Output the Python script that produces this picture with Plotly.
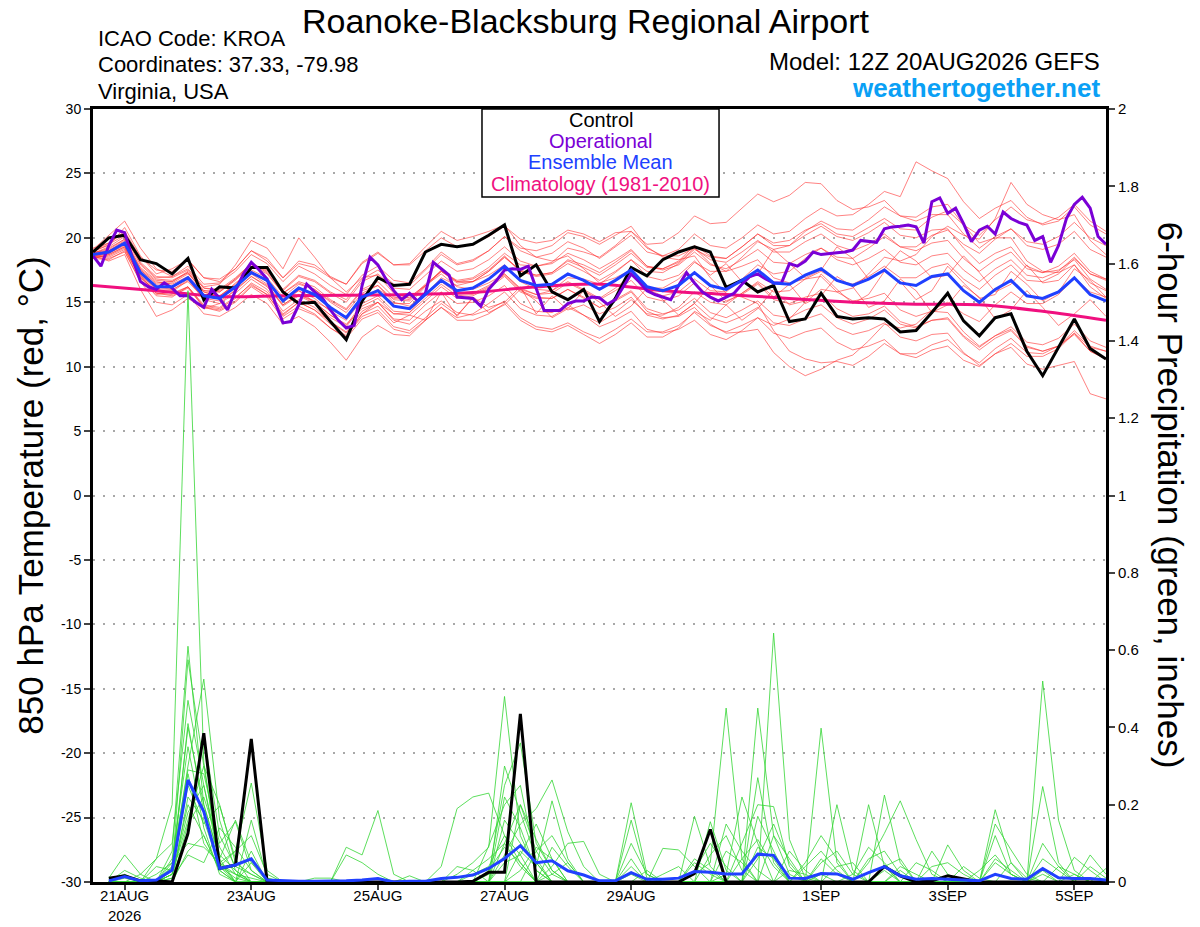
import pandas as pd
import plotly.graph_objects as go

RUN = "2026-08-20 12:00"
END = "2026-09-05 12:00"

# 850 hPa temperature (deg C), 6-hourly from 12Z 20AUG
control_t = [18.9, 20.0, 20.2, 18.3, 18.0, 17.2, 18.4, 15.2, 16.2, 16.1,
             17.7, 17.7, 15.8, 14.9, 15.0, 13.5, 12.1, 15.1, 16.9, 16.3,
             16.4, 18.9, 19.5, 19.3, 19.5, 20.2, 21.0, 17.05, 17.9, 15.8,
             15.2, 16.0, 13.5, 15.3, 17.7, 17.05, 18.3, 18.9, 19.3, 18.9,
             16.15, 16.7, 15.8, 16.3, 13.5, 13.7, 15.7, 13.9, 13.7, 13.8,
             13.7, 12.7, 12.8, 14.2, 15.7, 13.55, 12.4, 13.8, 14.1, 11.2,
             9.3, 11.5, 13.7, 11.4, 10.6]

mean_t = [18.7, 18.9, 19.6, 17.3, 16.2, 16.2, 16.9, 15.5, 15.3, 16.2,
          17.3, 16.7, 15.1, 16.1, 15.6, 14.6, 13.8, 15.4, 15.9, 14.7,
          14.5, 15.6, 16.7, 15.9, 16.1, 16.8, 17.8, 16.7, 16.3, 16.4,
          17.2, 16.7, 16.0, 16.7, 17.5, 16.2, 15.9, 16.3, 17.3, 16.3,
          16.0, 16.7, 17.5, 16.5, 16.4, 17.1, 17.6, 16.7, 16.3, 16.8,
          17.5, 16.5, 16.3, 17.0, 17.2, 15.9, 15.0, 16.0, 16.7, 15.5,
          15.3, 15.8, 16.9, 15.6, 15.1]

# operational run, 3-hourly
oper_t = [18.6, 17.8, 19.4, 20.6, 20.4, 18.4, 16.6, 16.2, 16.0, 16.5,
          16.1, 15.5, 15.5, 15.0, 14.6, 16.0, 15.3, 14.4, 15.9, 17.2,
          18.1, 17.5, 16.8, 15.0, 13.4, 13.5, 14.8, 16.4, 15.8, 15.3,
          14.4, 13.6, 13.0, 13.2, 16.3, 18.5, 17.9, 16.8, 15.9, 15.2,
          15.7, 15.1, 15.7, 18.1, 17.6, 17.1, 15.4, 15.35, 15.3, 14.7,
          16.0, 16.7, 17.5, 17.6, 17.55, 17.8, 16.0, 14.35, 14.35, 14.35,
          14.9, 15.1, 15.1, 15.4, 15.35, 14.85, 15.2, 16.2, 17.2, 16.6,
          15.9, 15.6, 15.4, 15.2, 16.3, 17.3, 16.5, 15.8, 15.4, 15.1,
          15.4, 15.7, 16.4, 17.0, 17.2, 16.8, 16.5, 16.5, 18.0, 17.8,
          18.2, 18.9, 18.7, 18.8, 18.85, 18.9, 19.05, 19.8, 19.7, 19.65,
          20.7, 20.85, 20.9, 21.0, 20.85, 19.6, 22.8, 23.1, 21.9, 22.3,
          21.1, 19.7, 20.6, 20.9, 20.3, 22.0, 21.5, 21.2, 21.0, 19.8,
          20.1, 18.1, 19.4, 21.5, 22.6, 23.15, 22.3, 20.1, 19.5]

# climatology, daily at 12Z
clim_t = [16.3, 15.9, 15.45, 15.5, 15.55, 15.6, 15.75, 16.2, 16.4,
          15.9, 15.6, 15.3, 15.0, 14.85, 14.8, 14.3, 13.6]

member_t = [
    [19.0, 19.6, 20.4, 18.0, 16.9, 17.0, 17.8, 16.4, 16.5, 17.4, 18.7, 18.0, 16.6, 17.8, 17.2, 16.3, 15.6, 17.1, 17.8, 16.7, 16.5, 17.6, 18.9, 18.0, 18.3, 19.0, 20.1, 19.0, 18.5, 18.8, 19.7, 19.2, 18.4, 19.3, 20.2, 18.9, 18.6, 19.1, 20.3, 19.4, 19.2, 20.0, 21.0, 20.3, 20.5, 21.5, 22.3, 21.7, 21.8, 22.6, 23.6, 23.2, 25.9, 25.2, 24.6, 22.8, 21.5, 22.3, 22.9, 21.6, 21.0, 21.3, 22.4, 21.0, 20.3],
    [18.5, 18.6, 19.2, 16.8, 15.5, 15.4, 16.2, 14.6, 14.4, 15.1, 16.3, 15.6, 14.0, 15.0, 14.4, 13.5, 12.6, 14.1, 14.7, 13.4, 14.0, 13.6, 15.8, 13.9, 15.4, 14.6, 15.0, 16.2, 14.1, 15.5, 14.4, 14.8, 14.1, 14.6, 15.4, 14.0, 13.7, 14.0, 14.9, 13.8, 13.4, 13.9, 14.6, 13.4, 13.2, 13.7, 14.1, 13.0, 12.5, 12.8, 13.4, 12.3, 12.0, 12.5, 12.6, 11.1, 10.1, 11.0, 11.5, 10.2, 9.8, 10.1, 10.4, 7.9, 7.5],
    [18.4, 18.3, 19.0, 16.6, 15.0, 14.8, 15.6, 14.1, 13.9, 14.6, 15.6, 14.9, 13.3, 13.9, 13.1, 11.9, 10.5, 12.3, 13.2, 12.5, 12.4, 13.6, 14.6, 13.8, 14.1, 14.9, 15.8, 14.5, 14.0, 13.9, 14.6, 14.0, 13.4, 14.2, 15.2, 14.1, 14.0, 14.6, 15.8, 15.0, 14.8, 15.7, 16.6, 15.8, 15.9, 16.8, 17.4, 16.7, 16.4, 17.0, 17.8, 16.9, 16.9, 17.7, 18.0, 16.8, 16.0, 17.1, 17.9, 16.7, 16.6, 17.2, 18.4, 17.2, 16.8],
    [19.0, 19.4, 20.8, 18.6, 17.2, 17.6, 18.3, 16.9, 16.8, 17.6, 19.0, 18.4, 16.9, 18.2, 17.9, 17.0, 16.4, 18.0, 18.8, 17.9, 17.9, 19.0, 20.0, 19.3, 19.5, 20.1, 20.9, 19.9, 19.6, 19.8, 20.6, 20.3, 19.7, 20.4, 20.5, 19.2, 18.6, 18.6, 19.2, 18.0, 17.4, 17.8, 18.3, 16.9, 16.5, 16.8, 17.0, 15.8, 15.1, 15.3, 15.7, 14.4, 13.9, 14.3, 14.2, 12.7, 11.6, 12.4, 12.9, 11.6, 11.2, 11.6, 12.5, 11.2, 10.6],
    [18.6, 18.2, 18.7, 16.0, 13.9, 14.4, 15.3, 14.5, 14.9, 16.0, 17.0, 16.2, 14.8, 15.6, 15.1, 14.4, 13.9, 15.3, 16.0, 15.3, 15.4, 16.3, 17.2, 16.2, 16.0, 16.5, 17.2, 16.0, 15.6, 15.9, 16.9, 16.8, 16.4, 17.3, 18.3, 17.4, 17.3, 18.0, 19.1, 18.5, 18.4, 19.3, 20.3, 19.6, 19.8, 20.6, 21.1, 20.3, 20.1, 20.8, 21.5, 20.7, 20.6, 21.6, 22.1, 21.0, 20.2, 21.4, 22.4, 21.4, 21.1, 21.6, 22.6, 21.3, 20.5],
    [18.8, 19.1, 19.9, 17.6, 16.6, 16.4, 17.0, 15.8, 15.4, 16.5, 17.4, 16.6, 15.3, 15.9, 15.0, 14.0, 13.3, 14.5, 15.0, 13.6, 13.3, 14.3, 15.1, 14.2, 14.0, 14.4, 15.1, 13.8, 13.1, 12.9, 13.4, 12.7, 12.2, 12.9, 13.7, 12.7, 12.7, 13.2, 14.2, 13.2, 12.7, 13.2, 13.8, 12.6, 12.2, 12.7, 13.0, 11.9, 11.3, 11.6, 12.1, 11.0, 10.7, 11.3, 11.6, 10.5, 10.0, 11.0, 11.8, 10.8, 10.8, 11.4, 12.6, 11.5, 11.2],
    [19.1, 20.2, 21.3, 19.2, 17.6, 17.0, 17.6, 16.2, 16.4, 17.9, 19.8, 19.2, 17.6, 20.0, 18.5, 16.9, 15.8, 16.9, 17.1, 15.7, 15.3, 16.4, 17.4, 16.5, 16.6, 17.4, 18.5, 17.4, 17.1, 17.3, 18.3, 17.9, 17.3, 18.1, 19.0, 17.8, 17.6, 18.1, 19.2, 18.3, 18.1, 18.9, 19.8, 18.9, 18.9, 19.7, 20.3, 19.4, 19.0, 19.5, 20.3, 19.3, 19.0, 19.6, 19.8, 18.4, 17.4, 18.3, 18.9, 17.6, 17.3, 17.8, 18.8, 17.4, 16.8],
    [18.5, 18.8, 19.4, 17.0, 15.8, 15.9, 16.8, 15.2, 14.9, 15.7, 16.8, 16.0, 14.3, 15.2, 14.6, 13.5, 12.7, 14.3, 15.0, 13.7, 13.6, 14.8, 15.8, 14.9, 15.0, 15.5, 16.3, 14.9, 14.3, 14.2, 14.8, 14.0, 13.1, 13.6, 14.3, 12.9, 12.6, 12.9, 13.6, 12.5, 12.1, 12.8, 13.8, 13.2, 13.7, 15.0, 16.0, 15.8, 16.1, 17.2, 18.5, 18.2, 18.7, 20.1, 20.9, 20.2, 19.9, 21.5, 24.3, 22.6, 21.8, 21.4, 21.8, 19.8, 18.7],
    [18.8, 19.2, 19.9, 17.7, 16.7, 16.6, 17.3, 15.9, 15.8, 16.7, 17.9, 17.2, 15.7, 16.6, 16.2, 15.2, 14.5, 16.0, 16.6, 15.4, 15.2, 16.3, 17.5, 16.6, 16.8, 17.5, 18.6, 17.4, 17.0, 17.2, 18.0, 17.4, 16.7, 17.4, 18.3, 17.0, 16.7, 17.1, 18.2, 17.1, 18.0, 16.6, 17.2, 19.1, 18.0, 16.9, 17.5, 19.3, 18.4, 16.8, 17.6, 19.0, 18.2, 16.9, 17.1, 18.6, 17.3, 15.8, 16.4, 17.9, 16.5, 16.7, 17.9, 16.5, 15.9],
    [18.9, 19.5, 20.2, 18.1, 17.0, 16.9, 17.5, 16.1, 15.9, 16.8, 18.0, 17.5, 16.0, 17.1, 16.7, 15.8, 15.2, 16.8, 17.5, 16.4, 16.3, 17.5, 18.7, 17.9, 18.2, 19.0, 20.1, 19.2, 19.0, 19.4, 20.4, 20.1, 19.5, 20.2, 20.9, 19.3, 18.5, 18.3, 18.6, 16.9, 15.7, 15.4, 14.9, 12.8, 11.2, 10.6, 10.3, 10.4, 10.1, 10.8, 11.8, 11.0, 11.0, 11.7, 12.1, 11.0, 10.3, 11.4, 12.2, 11.1, 11.0, 11.6, 12.8, 11.6, 11.2],
    [18.6, 18.5, 19.1, 16.9, 15.9, 16.0, 16.6, 15.3, 15.1, 15.9, 17.0, 16.3, 14.7, 15.5, 14.9, 13.8, 13.1, 14.7, 15.3, 14.1, 14.0, 15.1, 16.2, 15.3, 15.5, 16.1, 17.0, 15.8, 15.3, 15.3, 16.0, 15.3, 14.6, 15.1, 15.8, 14.3, 13.8, 13.9, 14.6, 13.3, 12.6, 12.7, 12.9, 11.1, 10.0, 9.3, 9.8, 10.5, 10.9, 12.0, 13.3, 13.0, 13.3, 14.4, 15.0, 14.1, 13.5, 14.8, 15.8, 14.9, 14.9, 15.6, 16.9, 15.8, 15.4],
    [18.7, 19.0, 19.7, 17.5, 16.5, 16.6, 17.4, 16.1, 16.0, 16.9, 18.0, 17.3, 15.7, 16.5, 16.0, 15.0, 14.2, 15.7, 16.3, 15.2, 15.1, 16.3, 17.4, 16.7, 16.9, 17.7, 18.8, 17.9, 17.8, 18.1, 19.2, 18.9, 18.5, 19.4, 20.5, 19.5, 19.6, 20.4, 21.7, 21.1, 21.2, 22.3, 23.4, 22.8, 23.3, 24.3, 24.2, 22.9, 22.2, 22.4, 22.9, 21.7, 21.3, 21.8, 21.8, 20.3, 19.2, 20.1, 20.7, 19.4, 19.1, 19.5, 20.5, 19.1, 18.5],
    [18.4, 18.7, 19.3, 17.2, 16.0, 15.7, 16.2, 14.7, 14.5, 15.3, 16.5, 15.8, 14.1, 15.0, 14.4, 13.3, 12.4, 13.9, 14.4, 13.1, 12.8, 13.8, 14.9, 14.0, 15.3, 14.2, 14.8, 16.0, 15.1, 13.8, 14.5, 15.9, 15.0, 13.9, 14.7, 16.1, 15.2, 14.0, 14.9, 16.3, 15.1, 15.6, 16.4, 15.2, 14.9, 15.4, 15.7, 14.5, 13.9, 14.1, 14.7, 13.5, 13.1, 13.6, 13.7, 12.3, 11.3, 12.2, 12.8, 11.5, 11.2, 11.6, 12.6, 11.2, 10.6],
    [19.2, 19.6, 20.5, 18.5, 17.5, 17.4, 18.3, 16.9, 16.6, 17.6, 19.0, 18.2, 16.9, 18.0, 17.7, 16.9, 16.4, 18.1, 18.9, 17.9, 18.0, 19.3, 20.5, 19.8, 20.1, 20.5, 21.0, 19.4, 18.5, 18.2, 18.6, 17.6, 16.5, 16.9, 17.5, 16.0, 15.5, 15.8, 16.8, 15.9, 15.8, 16.8, 17.9, 17.2, 17.4, 18.4, 19.2, 18.5, 18.4, 19.2, 20.1, 19.3, 19.3, 20.2, 20.6, 19.5, 18.8, 19.9, 20.7, 19.7, 19.5, 20.1, 21.2, 20.0, 19.4],
    [18.9, 18.9, 19.5, 17.1, 15.7, 15.5, 16.1, 14.6, 14.3, 15.0, 16.2, 15.4, 13.7, 14.5, 14.0, 13.0, 12.3, 14.1, 15.0, 14.1, 14.2, 15.6, 16.9, 16.3, 16.6, 17.4, 18.5, 17.5, 17.1, 17.3, 18.2, 17.7, 17.1, 17.9, 18.8, 17.7, 17.6, 18.2, 19.4, 18.6, 18.4, 19.3, 20.3, 19.4, 19.4, 20.2, 20.9, 20.1, 19.8, 20.4, 21.2, 20.2, 20.0, 20.6, 20.7, 19.2, 18.0, 18.8, 19.3, 17.8, 17.3, 17.5, 18.3, 16.8, 16.0],
    [18.6, 18.8, 19.5, 17.1, 16.0, 16.1, 16.9, 15.6, 15.5, 16.4, 17.5, 16.9, 15.4, 16.4, 16.0, 15.1, 14.4, 15.9, 16.3, 15.0, 14.7, 15.7, 16.6, 15.7, 15.7, 16.3, 17.1, 15.9, 15.4, 15.3, 16.0, 15.4, 14.6, 15.2, 15.9, 14.5, 14.1, 14.4, 15.3, 14.2, 13.8, 14.4, 15.1, 14.0, 13.8, 14.4, 14.8, 13.8, 13.3, 13.7, 14.4, 13.3, 13.0, 13.6, 13.8, 12.4, 11.5, 12.4, 13.1, 11.9, 11.7, 12.2, 13.3, 12.0, 11.5],
    [18.8, 19.3, 20.1, 17.9, 16.8, 16.7, 17.3, 15.8, 15.5, 16.3, 17.4, 16.6, 15.0, 15.9, 15.3, 14.3, 13.6, 15.2, 15.9, 14.9, 14.9, 16.2, 17.4, 16.6, 16.6, 17.1, 17.9, 16.6, 16.0, 15.9, 16.6, 16.0, 15.3, 16.1, 17.1, 16.1, 16.1, 16.8, 18.1, 17.4, 17.4, 18.5, 19.7, 19.1, 19.4, 20.5, 21.3, 20.7, 20.6, 21.4, 22.4, 21.7, 21.6, 22.4, 22.6, 21.0, 19.6, 20.0, 20.0, 18.2, 17.4, 17.3, 17.9, 16.2, 15.3],
    [18.5, 18.4, 18.9, 16.6, 15.6, 15.8, 16.7, 15.4, 15.3, 16.2, 17.2, 16.4, 14.8, 15.6, 15.0, 14.0, 13.2, 14.9, 15.5, 14.3, 14.2, 15.3, 16.4, 15.5, 15.6, 16.2, 17.2, 16.1, 15.6, 15.7, 16.5, 15.9, 15.2, 15.9, 16.7, 15.4, 15.1, 15.5, 16.5, 15.4, 15.0, 15.7, 16.5, 15.4, 16.4, 14.9, 15.5, 17.0, 16.2, 14.6, 15.1, 16.8, 15.9, 14.2, 14.8, 16.3, 15.4, 13.7, 14.4, 15.9, 14.6, 13.2, 14.1, 15.2, 13.9],
    [18.7, 19.0, 19.8, 17.5, 16.4, 16.5, 17.2, 15.9, 15.8, 16.8, 18.0, 17.4, 15.9, 17.0, 16.6, 15.7, 15.0, 16.6, 17.2, 16.1, 16.0, 17.1, 18.2, 17.4, 17.6, 18.3, 19.3, 18.2, 17.8, 18.0, 18.8, 18.3, 17.6, 18.3, 19.1, 17.8, 17.5, 17.9, 18.9, 17.9, 17.6, 18.3, 19.1, 18.1, 18.0, 18.7, 19.2, 18.3, 17.9, 18.4, 19.1, 18.1, 17.9, 18.6, 18.8, 17.5, 16.6, 17.6, 18.3, 17.1, 16.9, 17.4, 18.5, 17.2, 16.7],
    [18.6, 18.7, 19.3, 16.9, 15.7, 15.6, 16.2, 14.8, 14.6, 15.4, 16.4, 15.6, 13.9, 14.7, 14.1, 13.0, 12.2, 13.7, 14.2, 12.9, 12.6, 13.6, 14.6, 13.6, 13.6, 14.1, 14.9, 13.6, 12.9, 12.7, 13.2, 12.5, 11.8, 12.5, 13.4, 12.3, 12.3, 13.0, 14.3, 13.6, 14.8, 13.6, 14.5, 16.0, 14.8, 15.1, 17.2, 16.0, 14.9, 15.6, 17.4, 16.6, 15.2, 15.9, 17.8, 16.5, 15.3, 15.6, 17.4, 16.4, 15.1, 15.8, 17.6, 16.7, 15.4],
]

# 6-hour precipitation (inches), ending 18Z 20AUG .. 12Z 5SEP
control_p = [.01, .016, .003, .003, 0, .126, .385, .035,
             .044, .37, 0, 0, 0, 0, 0, 0,
             0, 0, 0, 0, 0, 0, 0, .002,
             .025, .025, .435, 0, 0, 0, 0, 0,
             0, 0, 0, 0, 0, .022, .136, 0,
             0, 0, 0, 0, 0, 0, 0, 0,
             0, .04, .016, 0, .003, .016, .007, 0,
             0, 0, 0, 0, 0, 0, 0, 0]

mean_p = [.003, .014, .003, .005, .031, .264, .182, .035,
          .044, .06, .005, .003, .002, .002, .002, .003,
          .005, .009, 0, .002, .002, .009, .012, .018,
          .035, .061, .094, .05, .055, .029, .018, .003,
          .003, .024, .007, .007, .01, .027, .025, .021,
          .021, .072, .069, .01, .009, .022, .021, .007,
          .024, .04, .016, .007, .009, .007, .005, .003,
          .02, .009, .007, .035, .011, .009, .009, .005]

member_p = [
    [.01, .07, .02, .06, .2, 1.53, .31, .04, .02, .01, 0, 0, 0, 0, 0, 0,
     0, 0, 0, 0, 0, 0, .02, .05, .09, .48, .12, .03, 0, 0, 0, 0,
     0, 0, 0, 0, 0, .02, .05, .45, .06, 0, 0, 0, 0, .02, 0, 0,
     0, 0, 0, 0, 0, 0, 0, 0, .05, .02, 0, .02, 0, 0, 0, 0],
    [0, .03, .01, 0, .08, .61, .2, .06, .16, .05, .01, 0, 0, 0, 0, 0,
     0, 0, 0, 0, 0, .04, .19, .22, .23, .12, .05, 0, 0, 0, 0, 0,
     0, .02, 0, 0, 0, 0, 0, 0, 0, .27, .05, 0, 0, 0, 0, 0,
     .2, .04, 0, 0, 0, 0, 0, 0, 0, 0, 0, .52, .16, .03, 0, 0],
    [0, 0, 0, .04, .03, .575, .3, .2, .05, .02, 0, 0, 0, 0, 0, .09,
     .07, .185, .02, 0, 0, 0, 0, 0, .02, .25, .36, .1, .03, 0, 0, 0,
     0, 0, 0, 0, 0, 0, 0, .02, .22, .1, 0, 0, 0, 0, 0, 0,
     0, .225, .05, 0, 0, 0, 0, 0, 0, 0, 0, 0, 0, 0, .07, .02],
    [0, 0, 0, 0, .04, .3, .525, .16, .03, 0, 0, 0, 0, 0, 0, 0,
     0, 0, 0, 0, 0, 0, 0, 0, 0, .07, .15, .19, .264, .13, .04, 0,
     0, .205, .02, 0, 0, 0, 0, 0, 0, 0, .644, .11, .01, 0, 0, 0,
     0, 0, 0, 0, .08, .02, 0, 0, 0, 0, 0, 0, 0, 0, 0, 0],
    [0, 0, 0, .06, .1, .47, .25, .05, .08, .256, .03, 0, 0, 0, 0, 0,
     0, 0, 0, 0, 0, 0, 0, 0, 0, 0, .08, .04, .21, .06, 0, 0,
     0, 0, 0, 0, 0, .17, .04, 0, 0, 0, 0, 0, 0, .398, .05, 0,
     0, 0, 0, 0, 0, 0, 0, 0, .187, .05, 0, 0, 0, 0, 0, 0],
    [0, 0, 0, 0, .02, .41, .18, .04, 0, .16, .01, 0, 0, 0, 0, 0,
     0, 0, 0, 0, 0, 0, 0, .03, .06, .1, .04, 0, 0, 0, 0, 0,
     0, .16, .01, 0, 0, 0, 0, 0, 0, .45, .12, .02, 0, 0, 0, 0,
     .05, .126, .21, .11, .02, 0, 0, 0, 0, 0, 0, .247, .05, 0, 0, 0],
    [0, 0, .02, 0, .05, .29, .28, .1, .156, .03, 0, 0, 0, 0, 0, 0,
     0, 0, 0, 0, 0, 0, 0, 0, 0, 0, 0, 0, .04, .1, .105, .02,
     0, 0, 0, .087, .083, .04, 0, 0, 0, 0, 0, 0, 0, 0, .2, .03,
     0, 0, 0, 0, 0, .096, .03, 0, 0, 0, 0, 0, 0, 0, 0, 0],
    [0, 0, 0, 0, .03, .25, .15, .197, .06, 0, 0, 0, 0, 0, 0, 0,
     0, 0, 0, 0, 0, 0, 0, 0, 0, .3, .18, .06, 0, 0, 0, 0,
     0, 0, 0, 0, 0, 0, .156, .03, 0, 0, 0, .03, .02, 0, 0, 0,
     0, 0, 0, 0, 0, 0, 0, 0, .15, .083, .02, 0, 0, .064, .03, 0],
    [0, 0, 0, 0, .02, .2, .12, .03, 0, .08, 0, 0, 0, 0, 0, 0,
     0, 0, 0, 0, 0, 0, 0, 0, .093, .2, .25, .05, 0, 0, 0, 0,
     0, .1, .02, 0, 0, 0, 0, 0, .1, .2, .195, .04, 0, 0, 0, 0,
     0, .04, .06, 0, 0, 0, 0, 0, 0, 0, 0, 0, .04, .02, 0, 0],
    [0, 0, 0, 0, 0, .15, .22, .09, .02, 0, 0, 0, 0, 0, 0, 0,
     0, 0, 0, 0, 0, 0, 0, 0, 0, .16, .1, .05, 0, 0, 0, 0,
     0, 0, 0, 0, 0, 0, 0, .08, .05, 0, 0, 0, 0, .05, .08, .02,
     0, 0, 0, 0, 0, 0, 0, 0, .12, .02, 0, 0, 0, 0, 0, .035],
    [.005, .02, 0, 0, .06, .35, .14, .02, 0, 0, 0, 0, 0, 0, 0, 0,
     0, 0, 0, .016, 0, 0, 0, 0, 0, .05, .07, .15, .06, 0, 0, 0,
     0, 0, 0, 0, 0, .06, .03, 0, 0, 0, 0, 0, .05, .12, .06, 0,
     0, 0, 0, 0, 0, 0, .04, .01, 0, 0, 0, 0, 0, 0, 0, 0],
    [0, 0, 0, 0, .01, .12, .38, .12, .04, .02, 0, 0, 0, 0, 0, 0,
     0, 0, 0, 0, 0, 0, 0, 0, 0, 0, .2, .11, .03, 0, 0, 0,
     0, 0, 0, 0, 0, 0, 0, 0, 0, .09, .06, 0, 0, 0, 0, 0,
     .06, .08, .02, 0, 0, 0, 0, 0, 0, 0, 0, .03, 0, 0, 0, 0],
    [0, 0, 0, 0, 0, .22, .16, .04, .01, 0, 0, 0, 0, .01, .01, 0,
     0, 0, 0, 0, 0, 0, 0, .02, .04, .12, .07, 0, 0, 0, 0, 0,
     0, .06, 0, 0, 0, 0, 0, .15, .08, .03, 0, 0, 0, 0, 0, 0,
     0, 0, 0, .05, .03, 0, 0, 0, 0, .05, .01, 0, 0, 0, 0, 0],
    [0, 0, 0, 0, .03, .28, .1, .04, .08, .12, .02, 0, 0, 0, 0, .07,
     .05, .02, 0, 0, 0, 0, 0, 0, 0, 0, 0, .08, .12, .05, 0, 0,
     0, 0, 0, 0, 0, 0, 0, 0, 0, 0, .12, .06, 0, 0, .04, .05,
     0, 0, 0, 0, 0, 0, 0, 0, 0, 0, 0, 0, 0, .02, 0, 0],
    [0, 0, 0, 0, .02, .18, .25, .07, .03, 0, 0, 0, 0, 0, 0, 0,
     0, 0, 0, 0, 0, 0, 0, 0, 0, .22, .14, .03, 0, 0, 0, 0,
     0, 0, 0, 0, 0, .03, .1, .04, 0, .17, .08, 0, 0, 0, 0, 0,
     0, .03, 0, 0, 0, 0, 0, 0, .06, .03, 0, 0, 0, 0, 0, 0],
    [0, 0, 0, .02, .05, .1, .09, .05, .02, 0, 0, 0, 0, 0, 0, 0,
     0, 0, 0, 0, 0, 0, 0, 0, 0, 0, .03, .09, .06, 0, 0, 0,
     0, 0, 0, .02, .04, 0, 0, 0, 0, 0, 0, .08, .03, 0, 0, 0,
     0, 0, 0, 0, .04, .05, .02, 0, 0, 0, 0, .06, .03, 0, 0, 0],
    [0, .01, 0, 0, .04, .4, .2, .06, 0, .05, 0, 0, 0, 0, 0, 0,
     0, 0, 0, 0, 0, 0, 0, 0, .03, .09, .05, 0, 0, 0, 0, 0,
     0, 0, .03, 0, 0, 0, 0, 0, .06, .11, .04, 0, 0, 0, 0, .02,
     .09, .05, 0, 0, 0, 0, 0, 0, 0, 0, 0, 0, 0, 0, .04, .01],
    [0, 0, 0, 0, .02, .16, .3, .05, 0, 0, 0, 0, 0, 0, 0, 0,
     0, 0, 0, 0, 0, 0, 0, 0, 0, 0, 0, 0, .09, .04, 0, 0,
     0, 0, 0, 0, 0, 0, .07, .12, .03, 0, 0, 0, 0, .06, .02, 0,
     0, 0, 0, 0, 0, 0, 0, .03, .07, .02, 0, 0, 0, 0, 0, 0],
    [0, 0, 0, 0, 0, .08, .12, .03, 0, 0, 0, 0, 0, 0, 0, 0,
     0, 0, 0, 0, 0, 0, 0, 0, 0, .1, .2, .08, .02, 0, 0, 0,
     0, .04, 0, 0, 0, 0, 0, 0, 0, .06, .15, .05, 0, 0, 0, 0,
     0, 0, .04, .02, 0, 0, 0, 0, 0, 0, 0, .1, .04, 0, 0, 0],
    [0, 0, 0, 0, .01, .07, .05, .14, .09, .03, 0, 0, 0, 0, 0, 0,
     0, 0, 0, 0, 0, 0, .04, .03, 0, 0, 0, 0, .02, .05, 0, 0,
     0, 0, 0, 0, 0, .05, .02, 0, 0, 0, 0, 0, .04, .08, .03, 0,
     0, 0, .03, 0, 0, 0, 0, 0, 0, 0, 0, 0, 0, 0, 0, 0],
]

tick_days = ["2026-08-21", "2026-08-23", "2026-08-25", "2026-08-27",
             "2026-08-29", "2026-09-01", "2026-09-03", "2026-09-05"]
tick_text = ["21AUG<br>2026", "23AUG", "25AUG", "27AUG", "29AUG",
             "1SEP", "3SEP", "5SEP"]
temp_ticks = list(range(-30, 31, 5))

t6 = pd.date_range(RUN, periods=len(control_t), freq="6h")
t3 = pd.date_range(RUN, periods=len(oper_t), freq="3h")
tday = pd.date_range(RUN, periods=len(clim_t), freq="1D")
tp = t6[1:]

FONT = "Liberation Sans, Arial, sans-serif"
RED = "rgba(255,45,45,0.75)"
GREEN = "#33d633"
BLUE = "#2040ff"
PURPLE = "#7a00d6"
PINK = "#f0107f"

fig = go.Figure()

for m in member_p:
    fig.add_trace(go.Scatter(x=tp, y=m, yaxis="y2", mode="lines",
                             line=dict(color=GREEN, width=0.8), hoverinfo="skip"))
for m in member_t:
    fig.add_trace(go.Scatter(x=t6, y=m, mode="lines",
                             line=dict(color=RED, width=0.8), hoverinfo="skip"))

fig.add_trace(go.Scatter(x=tday, y=clim_t, mode="lines",
                         line=dict(color=PINK, width=3, shape="spline")))
fig.add_trace(go.Scatter(x=t6, y=control_t, mode="lines",
                         line=dict(color="black", width=3)))
fig.add_trace(go.Scatter(x=t3, y=oper_t, mode="lines",
                         line=dict(color=PURPLE, width=3)))
fig.add_trace(go.Scatter(x=t6, y=mean_t, mode="lines",
                         line=dict(color=BLUE, width=3)))
fig.add_trace(go.Scatter(x=tp, y=control_p, yaxis="y2", mode="lines",
                         line=dict(color="black", width=3)))
fig.add_trace(go.Scatter(x=tp, y=mean_p, yaxis="y2", mode="lines",
                         line=dict(color=BLUE, width=3)))

def note(text, x, y, size, color="black", xanchor="left", yanchor="middle",
         bold=False, angle=0):
    if bold:
        text = "<b>" + text + "</b>"
    fig.add_annotation(text=text, x=x, y=y, xref="paper", yref="paper",
                       xanchor=xanchor, yanchor=yanchor, showarrow=False,
                       textangle=angle, font=dict(family=FONT, size=size, color=color))

note("Roanoke-Blacksburg Regional Airport", 0.487, 1.141, 34,
     xanchor="center", yanchor="top")
note("ICAO Code: KROA", 0.003, 1.091, 22)
note("Coordinates: 37.33, -79.98", 0.003, 1.058, 22)
note("Virginia, USA", 0.003, 1.023, 22)
note("Model: 12Z 20AUG2026 GEFS", 0.996, 1.061, 24, xanchor="right")
note("weathertogether.net", 0.996, 1.027, 26, color="#0aa0f5", xanchor="right", bold=True)

note("850 hPa Temperature (red, °C)", -0.062, 0.5, 35, xanchor="center", angle=-90)
note("6-hour Precipitation (green, inches)", 1.064, 0.5, 35, xanchor="center", angle=90)

# legend box
fig.add_shape(type="rect", xref="paper", yref="paper", x0=0.384, x1=0.618,
              y0=0.886, y1=1.0, line=dict(color="black", width=1.5),
              fillcolor="white", layer="above")
note("Control", 0.501, 0.986, 20, xanchor="center")
note("Operational", 0.501, 0.958, 20, color=PURPLE, xanchor="center")
note("Ensemble Mean", 0.501, 0.931, 20, color=BLUE, xanchor="center")
note("Climatology (1981-2010)", 0.501, 0.903, 20, color=PINK, xanchor="center")

fig.update_layout(
    width=1200, height=927,
    margin=dict(l=93, r=94, t=109, b=45),
    paper_bgcolor="white", plot_bgcolor="white",
    showlegend=False,
    font=dict(family=FONT, color="black"),
    xaxis=dict(type="date", range=[RUN, END], tickvals=tick_days, ticktext=tick_text,
               ticks="outside", ticklen=5, tickwidth=2, showgrid=False,
               showline=True, linewidth=3, linecolor="black", mirror=True,
               tickfont=dict(size=15), ticklabelstandoff=-7, automargin=False),
    yaxis=dict(range=[-30, 30], tickvals=temp_ticks, ticktext=[str(v) for v in temp_ticks],
               ticks="outside", ticklen=6, tickwidth=1.5, showgrid=True,
               gridcolor="#a8a8a8", griddash="2px,8px", gridwidth=1.5, zeroline=False,
               showline=True, linewidth=3, linecolor="black", mirror=True,
               tickfont=dict(size=14), automargin=False),
    yaxis2=dict(range=[0, 2], dtick=0.2, overlaying="y", side="right",
                ticks="outside", ticklen=6, tickwidth=1.5, showgrid=False,
                zeroline=False, showline=True, linewidth=3, linecolor="black",
                tickfont=dict(size=15), automargin=False),
)

# the page body has a default 8px margin; drop it so the figure fills the window
fig.write_html("out.html", config={"displayModeBar": False},
               post_script="document.body.style.margin='0px';")
